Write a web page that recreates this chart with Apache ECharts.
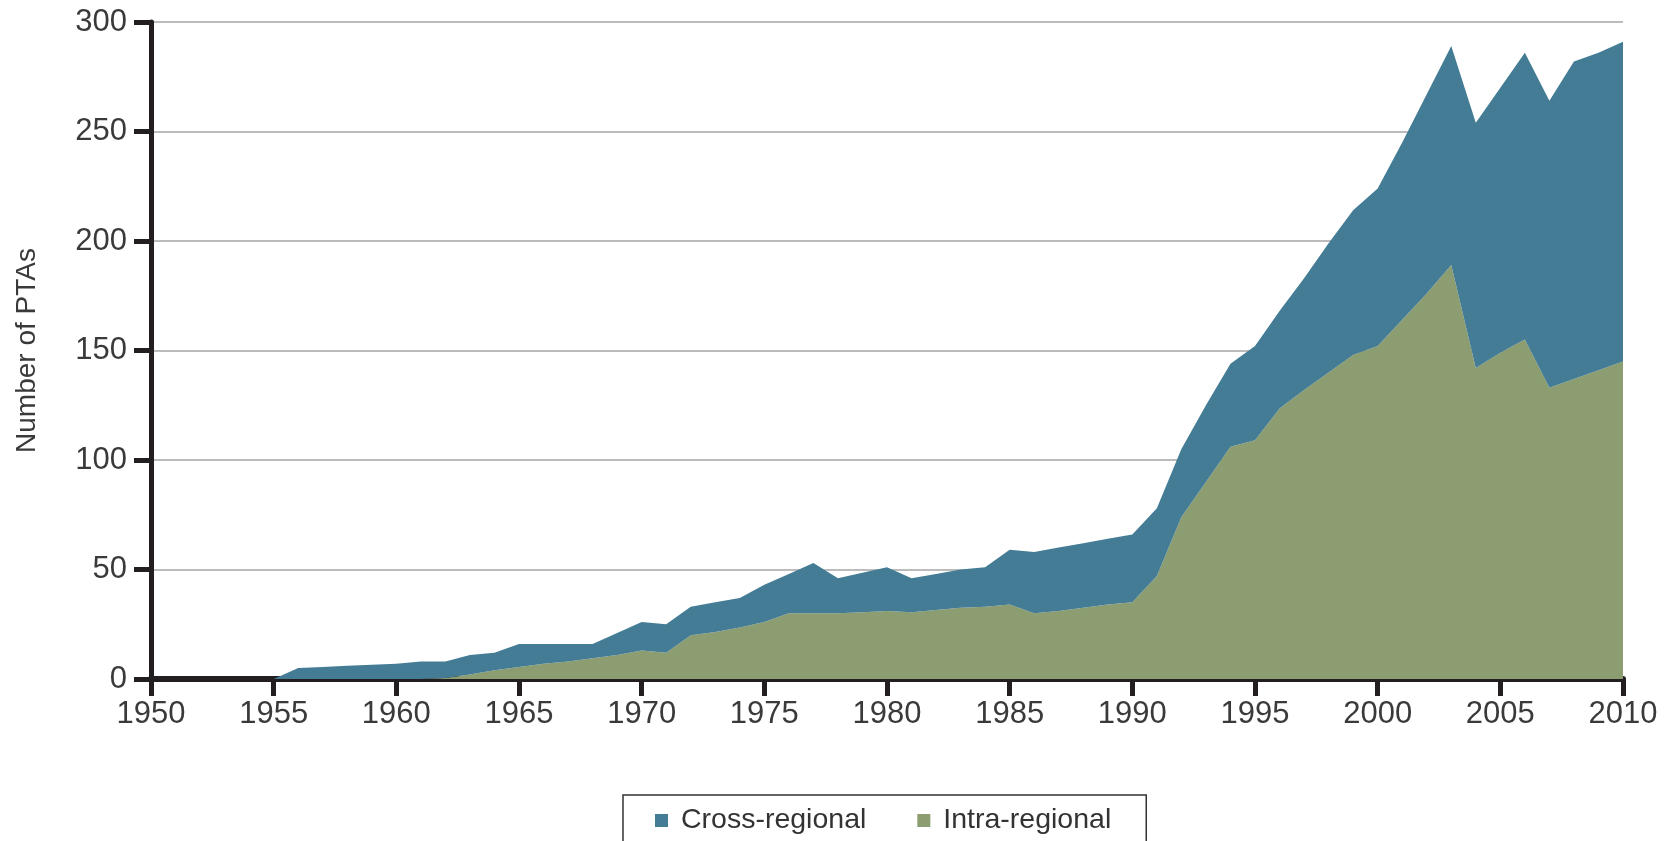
<!DOCTYPE html>
<html>
<head>
<meta charset="utf-8">
<script src="https://cdn.jsdelivr.net/npm/echarts@6/dist/echarts.min.js"></script>
<style>
html, body { margin: 0; padding: 0; background: #fff; }
#main { width: 1677px; height: 841px; }
</style>
</head>
<body>
<div id="main"></div>
<script>
const years = [
    "1950", "1951", "1952", "1953", "1954", "1955", "1956", "1957", "1958", "1959",
    "1960", "1961", "1962", "1963", "1964", "1965", "1966", "1967", "1968", "1969",
    "1970", "1971", "1972", "1973", "1974", "1975", "1976", "1977", "1978", "1979",
    "1980", "1981", "1982", "1983", "1984", "1985", "1986", "1987", "1988", "1989",
    "1990", "1991", "1992", "1993", "1994", "1995", "1996", "1997", "1998", "1999",
    "2000", "2001", "2002", "2003", "2004", "2005", "2006", "2007", "2008", "2009",
    "2010"
];

// intra-regional PTAs (bottom layer)
const intraRegional = [
    0, 0, 0, 0, 0, 0, 0, 0, 0, 0,
    0, 0, 0.5, 2, 4, 5.5, 7, 8, 9.5, 11,
    13, 12, 20, 21.5, 23.5, 26, 30, 30, 30, 30.5,
    31, 30.5, 31.5, 32.5, 33, 34, 30, 31, 32.5, 34,
    35, 47, 74, 90, 106, 109, 123.5, 132, 140, 148,
    152, 164, 176, 189, 142, 149, 155, 133, 137, 141,
    145
];

// cross-regional PTAs (stacked on top)
const crossRegional = [
    0, 0, 0, 0, 0, 0, 5, 5.5, 6, 6.5,
    7, 8, 7.5, 9, 8, 10.5, 9, 8, 6.5, 10,
    13, 13, 13, 13.5, 13.5, 17, 18, 23, 16, 18,
    20, 15.5, 16.5, 17.5, 18, 25, 28, 29, 29.5, 30,
    31, 31, 31, 35, 38, 43, 44.5, 51, 59, 66,
    72, 81, 91, 100, 112, 121, 131, 131, 145, 145,
    146
];

const seriesNames = ["Cross-regional", "Intra-regional"];
const colors = { cross: "#437c94", intra: "#8c9d71" };

const chart = echarts.init(document.querySelector("#main"));
const font = "'Liberation Sans', Arial, sans-serif";

chart.setOption({
    animation: false,
    textStyle: { fontFamily: font },
    grid: { left: 151, right: 54, top: 22, bottom: 162 },
    legend: {
        data: seriesNames,
        left: 623,
        top: 795,
        orient: "horizontal",
        padding: [11, 35, 40, 32],
        itemGap: 51,
        itemWidth: 13,
        itemHeight: 13,
        icon: "rect",
        borderColor: "#333",
        borderWidth: 1.5,
        textStyle: { fontSize: 28.5, color: "#333", fontFamily: font, lineHeight: 28, padding: [0, 0, 0, 8] }
    },
    xAxis: {
        type: "category",
        data: years,
        boundaryGap: false,
        axisLine: { show: true, lineStyle: { color: "#231f20", width: 6 } },
        axisTick: { show: true, interval: 4, length: 17, lineStyle: { color: "#231f20", width: 5 } },
        axisLabel: { interval: 4, fontSize: 31, color: "#3a3a3a", margin: 20, fontFamily: font },
        splitLine: { show: false }
    },
    yAxis: {
        type: "value",
        min: 0,
        max: 300,
        interval: 50,
        name: "Number of PTAs",
        nameLocation: "middle",
        nameGap: 110,
        nameTextStyle: { fontSize: 28, color: "#3a3a3a", fontFamily: font },
        axisLine: { show: true, lineStyle: { color: "#231f20", width: 5 } },
        axisTick: { show: true, length: 17, lineStyle: { color: "#231f20", width: 5 } },
        axisLabel: { fontSize: 31, color: "#3a3a3a", margin: 24, fontFamily: font },
        splitLine: { show: true, lineStyle: { color: "#a6a6a6", width: 1.5 } }
    },
    series: [
        {
            name: "Intra-regional",
            type: "line",
            stack: "total",
            data: intraRegional,
            symbol: "none",
            lineStyle: { width: 0 },
            itemStyle: { color: colors.intra },
            areaStyle: { color: colors.intra, opacity: 1 },
            z: 2
        },
        {
            name: "Cross-regional",
            type: "line",
            stack: "total",
            data: crossRegional,
            symbol: "none",
            lineStyle: { width: 0 },
            itemStyle: { color: colors.cross },
            areaStyle: { color: colors.cross, opacity: 1 },
            z: 2
        }
    ]
});
</script>
</body>
</html>
